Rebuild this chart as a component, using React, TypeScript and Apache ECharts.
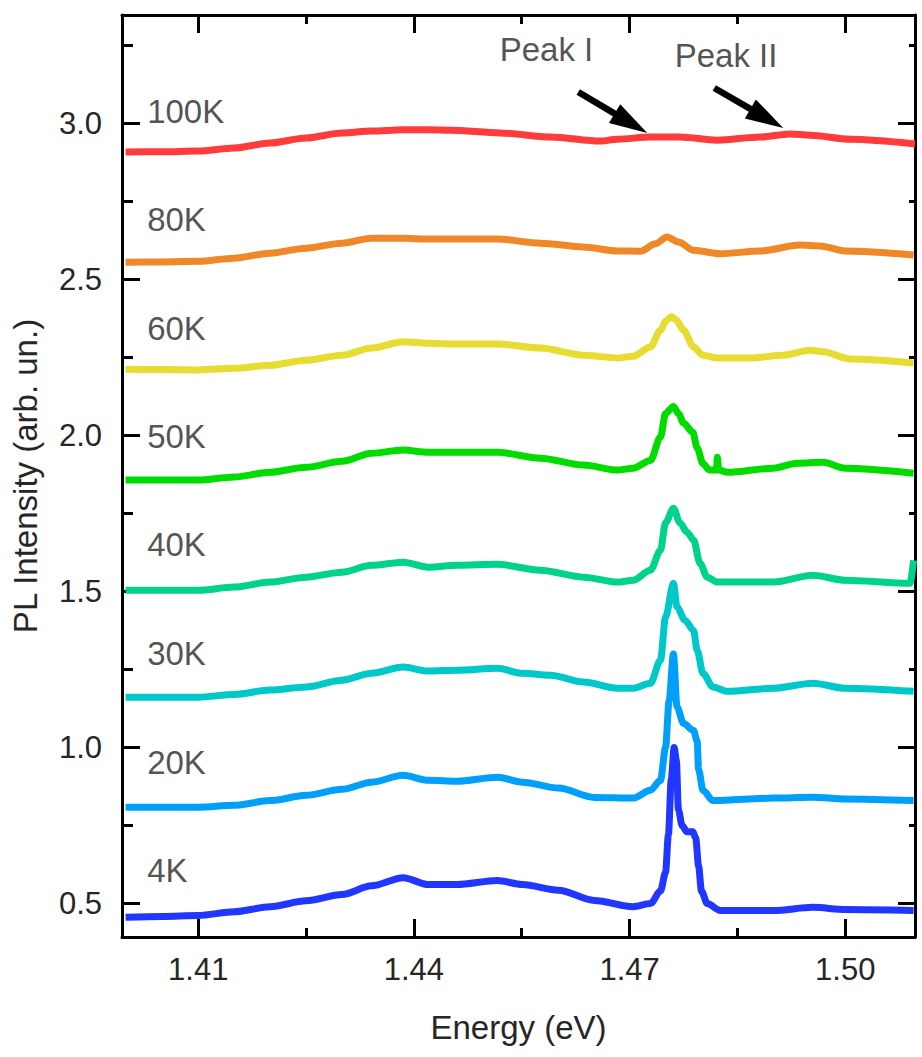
import React, { useEffect, useRef } from "react";
import * as echarts from "echarts";

// ---- axes ----
const E_MIN = 1.3994;
const E_MAX = 1.5097;
const I_MIN = 0.393;
const I_MAX = 3.347;
const X_MAJOR = [1.41, 1.44, 1.47, 1.5];
const X_MINOR = [1.425, 1.455, 1.485];
const Y_MAJOR = [0.5, 1.0, 1.5, 2.0, 2.5, 3.0];
const Y_MINOR = [0.75, 1.25, 1.75, 2.25, 2.75, 3.25];

// ---- series ----
const TEMPS = ["4K", "20K", "30K", "40K", "50K", "60K", "80K", "100K"];
const COLORS = ["#2137ff", "#00a0fa", "#00c8c8", "#00d28c", "#00dc00", "#e6dc32", "#f0882a", "#ff3c3c"];

const S4K = [[1.3999,0.456],[1.405,0.459],[1.41,0.462],[1.415,0.474],[1.42,0.49],[1.425,0.509],[1.43,0.529],[1.4341,0.557],[1.4385,0.583],[1.442,0.561],[1.446,0.561],[1.4516,0.574],[1.4551,0.561],[1.4601,0.543],[1.4651,0.51],[1.4705,0.49],[1.4729,0.5],[1.4743,0.54],[1.475,0.6],[1.4754,0.72],[1.4758,0.9],[1.4762,1.0],[1.4765,0.96],[1.4768,0.8],[1.4773,0.75],[1.478,0.73],[1.4788,0.73],[1.4792,0.71],[1.4796,0.62],[1.48,0.54],[1.4808,0.5],[1.4826,0.478],[1.49,0.478],[1.4955,0.488],[1.5,0.481],[1.5095,0.478]];
const S20K = [[1.3999,0.809],[1.405,0.809],[1.41,0.809],[1.415,0.815],[1.42,0.83],[1.425,0.847],[1.43,0.866],[1.4341,0.889],[1.4385,0.911],[1.442,0.895],[1.446,0.892],[1.4516,0.905],[1.4551,0.889],[1.4601,0.87],[1.4651,0.84],[1.4705,0.838],[1.4729,0.863],[1.4743,0.895],[1.475,1.0],[1.4755,1.15],[1.4761,1.3],[1.4766,1.13],[1.4775,1.077],[1.4789,1.055],[1.4794,1.02],[1.4796,0.93],[1.4802,0.863],[1.4816,0.83],[1.49,0.838],[1.4955,0.841],[1.5,0.835],[1.5095,0.83]];
const S30K = [[1.3999,1.161],[1.405,1.161],[1.41,1.161],[1.415,1.17],[1.42,1.184],[1.425,1.194],[1.43,1.216],[1.4341,1.238],[1.4385,1.258],[1.442,1.245],[1.446,1.248],[1.4516,1.254],[1.4551,1.238],[1.459,1.232],[1.4636,1.21],[1.4683,1.19],[1.4705,1.19],[1.4729,1.206],[1.4743,1.28],[1.475,1.418],[1.4761,1.526],[1.4766,1.45],[1.4777,1.408],[1.4789,1.375],[1.4794,1.312],[1.4802,1.238],[1.4816,1.194],[1.4836,1.18],[1.49,1.19],[1.4955,1.206],[1.5,1.19],[1.5095,1.18]];
const S40K = [[1.3999,1.504],[1.405,1.504],[1.41,1.504],[1.415,1.514],[1.42,1.53],[1.425,1.546],[1.43,1.562],[1.4341,1.584],[1.4385,1.594],[1.442,1.578],[1.446,1.584],[1.4516,1.587],[1.4576,1.568],[1.4636,1.546],[1.4683,1.53],[1.4705,1.536],[1.4729,1.568],[1.4743,1.632],[1.475,1.72],[1.4761,1.767],[1.477,1.72],[1.478,1.69],[1.4789,1.665],[1.4798,1.59],[1.4808,1.546],[1.4822,1.53],[1.49,1.53],[1.4955,1.552],[1.5,1.536],[1.509,1.526],[1.5095,1.6]];
const S50K = [[1.3999,1.857],[1.405,1.857],[1.41,1.857],[1.415,1.867],[1.42,1.882],[1.425,1.898],[1.43,1.917],[1.4341,1.943],[1.4385,1.953],[1.442,1.946],[1.446,1.946],[1.4516,1.946],[1.4576,1.927],[1.4636,1.905],[1.4683,1.889],[1.4705,1.895],[1.4729,1.92],[1.4743,1.995],[1.475,2.07],[1.4761,2.093],[1.4768,2.07],[1.4775,2.04],[1.4788,2.01],[1.4794,1.96],[1.4802,1.91],[1.4811,1.889],[1.4821,1.889],[1.4822,1.93],[1.4824,1.889],[1.4836,1.882],[1.49,1.895],[1.4933,1.911],[1.4969,1.914],[1.5,1.895],[1.5095,1.879]];
const S60K = [[1.3999,2.212],[1.405,2.211],[1.41,2.21],[1.415,2.215],[1.42,2.225],[1.425,2.241],[1.43,2.257],[1.4341,2.28],[1.4385,2.3],[1.442,2.295],[1.446,2.293],[1.4516,2.293],[1.4576,2.28],[1.4636,2.257],[1.4683,2.248],[1.4705,2.254],[1.4729,2.283],[1.4743,2.337],[1.4751,2.368],[1.4758,2.38],[1.4765,2.37],[1.4775,2.337],[1.4789,2.283],[1.4802,2.257],[1.4822,2.248],[1.4868,2.248],[1.4914,2.257],[1.4951,2.273],[1.4969,2.268],[1.5007,2.245],[1.5095,2.232]];
const S80K = [[1.3999,2.555],[1.405,2.556],[1.41,2.558],[1.415,2.568],[1.42,2.584],[1.425,2.6],[1.43,2.616],[1.4341,2.632],[1.4385,2.632],[1.442,2.629],[1.446,2.629],[1.4516,2.629],[1.4576,2.616],[1.4636,2.604],[1.4683,2.591],[1.4715,2.59],[1.4736,2.614],[1.4752,2.636],[1.4768,2.62],[1.4789,2.593],[1.4826,2.582],[1.4882,2.591],[1.4937,2.61],[1.4965,2.607],[1.5,2.591],[1.5095,2.578]];
const S100K = [[1.3999,2.908],[1.405,2.909],[1.41,2.911],[1.415,2.921],[1.42,2.937],[1.425,2.953],[1.43,2.969],[1.4341,2.975],[1.4385,2.979],[1.442,2.979],[1.4451,2.978],[1.452,2.969],[1.459,2.956],[1.4659,2.943],[1.4683,2.949],[1.4729,2.956],[1.477,2.956],[1.4822,2.946],[1.4882,2.956],[1.4923,2.966],[1.4951,2.962],[1.5007,2.949],[1.5097,2.934]];
const SERIES_DATA = [S4K, S20K, S30K, S40K, S50K, S60K, S80K, S100K];

// ---- annotations ----
const LABEL_X = 1.4029;
const LABEL_Y = [0.607, 0.953, 1.302, 1.652, 1.995, 2.344, 2.693, 3.039];
const PEAK_TEXTS = ["Peak I", "Peak II"];
const PEAK_TEXT_POS = [[1.45194, 3.238], [1.47628, 3.216]];
// arrows: [tailE, tailI, tipE, tipI]
const ARROWS = [
  [1.46286, 3.1003, 1.47246, 2.9689],
  [1.48178, 3.1131, 1.49137, 2.985],
];

const TEXT_COLOR = "#262626";
const FONT = "'Liberation Sans', Arial, sans-serif";

export default function App() {
  const ref = useRef<HTMLDivElement>(null);
  useEffect(() => {
    if (!ref.current) return;
    const chart = echarts.init(ref.current, undefined, { renderer: "svg" });
    const line = { color: "#000", width: 3 };
    const xBase = { type: "value", min: E_MIN, max: E_MAX, splitLine: { show: false }, axisLine: { show: false, onZero: false } };
    const yBase = { type: "value", min: I_MIN, max: I_MAX, splitLine: { show: false }, axisLine: { show: false, onZero: false } };
    const series: any[] = SERIES_DATA.map((d, i) => ({
      type: "line",
      name: TEMPS[i],
      data: d,
      showSymbol: false,
      symbol: "none",
      smooth: 0.3,
      smoothMonotone: "x",
      lineStyle: { color: COLORS[i], width: 7 },
      z: 2,
      silent: true,
    }));
    series.push({
      type: "custom",
      silent: true,
      clip: false,
      z: 6,
      data: ARROWS,
      renderItem: (_params: any, api: any) => {
        const p1 = api.coord([api.value(0), api.value(1)]);
        const p2 = api.coord([api.value(2), api.value(3)]);
        const dx = p2[0] - p1[0];
        const dy = p2[1] - p1[1];
        const len = Math.sqrt(dx * dx + dy * dy);
        const ux = dx / len, uy = dy / len;
        const L = 38, W = 11;
        const bx = p2[0] - L * ux, by = p2[1] - L * uy;
        const nx = -uy, ny = ux;
        return {
          type: "group",
          children: [
            { type: "line", shape: { x1: p1[0], y1: p1[1], x2: bx + 4 * ux, y2: by + 4 * uy }, style: { stroke: "#000", lineWidth: 6.5 } },
            { type: "polygon", shape: { points: [[p2[0], p2[1]], [bx + W * nx, by + W * ny], [bx - W * nx, by - W * ny]] }, style: { fill: "#000" } },
          ],
        };
      },
    });
    series.push({
      type: "scatter",
      silent: true,
      symbolSize: 0,
      data: TEMPS.map((t, i) => ({ name: t, value: [LABEL_X, LABEL_Y[i]] })),
      label: { show: true, position: "right", distance: 0, formatter: "{b}", fontSize: 33, color: TEXT_COLOR, fontFamily: FONT },
      z: 5,
    });
    series.push({
      type: "scatter",
      silent: true,
      symbolSize: 0,
      data: PEAK_TEXTS.map((t, i) => ({ name: t, value: PEAK_TEXT_POS[i] })),
      label: { show: true, position: "right", distance: 0, formatter: "{b}", fontSize: 33, color: TEXT_COLOR, fontFamily: FONT },
      z: 5,
    });
    chart.setOption({
      animation: false,
      backgroundColor: "#fff",
      grid: { left: 122, right: 7, top: 15, bottom: 120, containLabel: false, outerBoundsMode: "none" },
      xAxis: [
        {
          ...xBase,
          position: "bottom",
          axisLine: { show: true, onZero: false, lineStyle: line },
          axisTick: { show: true, inside: true, length: 18, lineStyle: line, customValues: X_MAJOR },
          axisLabel: { show: true, customValues: X_MAJOR, formatter: (v: number) => v.toFixed(2), fontSize: 31, color: TEXT_COLOR, fontFamily: FONT, margin: 17 },
          name: "Energy (eV)",
          nameLocation: "middle",
          nameGap: 74,
          nameTextStyle: { fontSize: 33, color: TEXT_COLOR, fontFamily: FONT },
        },
        { ...xBase, position: "bottom", axisTick: { show: true, inside: true, length: 9, lineStyle: line, customValues: X_MINOR }, axisLabel: { show: false } },
        { ...xBase, position: "top", axisLine: { show: true, onZero: false, lineStyle: line }, axisTick: { show: true, inside: true, length: 18, lineStyle: line, customValues: X_MAJOR }, axisLabel: { show: false } },
        { ...xBase, position: "top", axisTick: { show: true, inside: true, length: 9, lineStyle: line, customValues: X_MINOR }, axisLabel: { show: false } },
      ],
      yAxis: [
        {
          ...yBase,
          position: "left",
          axisLine: { show: true, onZero: false, lineStyle: line },
          axisTick: { show: true, inside: true, length: 18, lineStyle: line, customValues: Y_MAJOR },
          axisLabel: { show: true, customValues: Y_MAJOR, formatter: (v: number) => v.toFixed(1), fontSize: 31, color: TEXT_COLOR, fontFamily: FONT, margin: 20 },
          name: "PL Intensity (arb. un.)",
          nameLocation: "middle",
          nameGap: 80,
          nameTextStyle: { fontSize: 33, color: TEXT_COLOR, fontFamily: FONT },
        },
        { ...yBase, position: "left", axisTick: { show: true, inside: true, length: 11, lineStyle: line, customValues: Y_MINOR }, axisLabel: { show: false } },
        { ...yBase, position: "right", axisLine: { show: true, onZero: false, lineStyle: line }, axisTick: { show: true, inside: true, length: 17, lineStyle: line, customValues: Y_MAJOR }, axisLabel: { show: false } },
        { ...yBase, position: "right", axisTick: { show: true, inside: true, length: 6, lineStyle: line, customValues: Y_MINOR }, axisLabel: { show: false } },
      ],
      series,
    });
    return () => chart.dispose();
  }, []);
  return <div ref={ref} style={{ position: "fixed", left: 0, top: 0, width: 922, height: 1057 }} />;
}
